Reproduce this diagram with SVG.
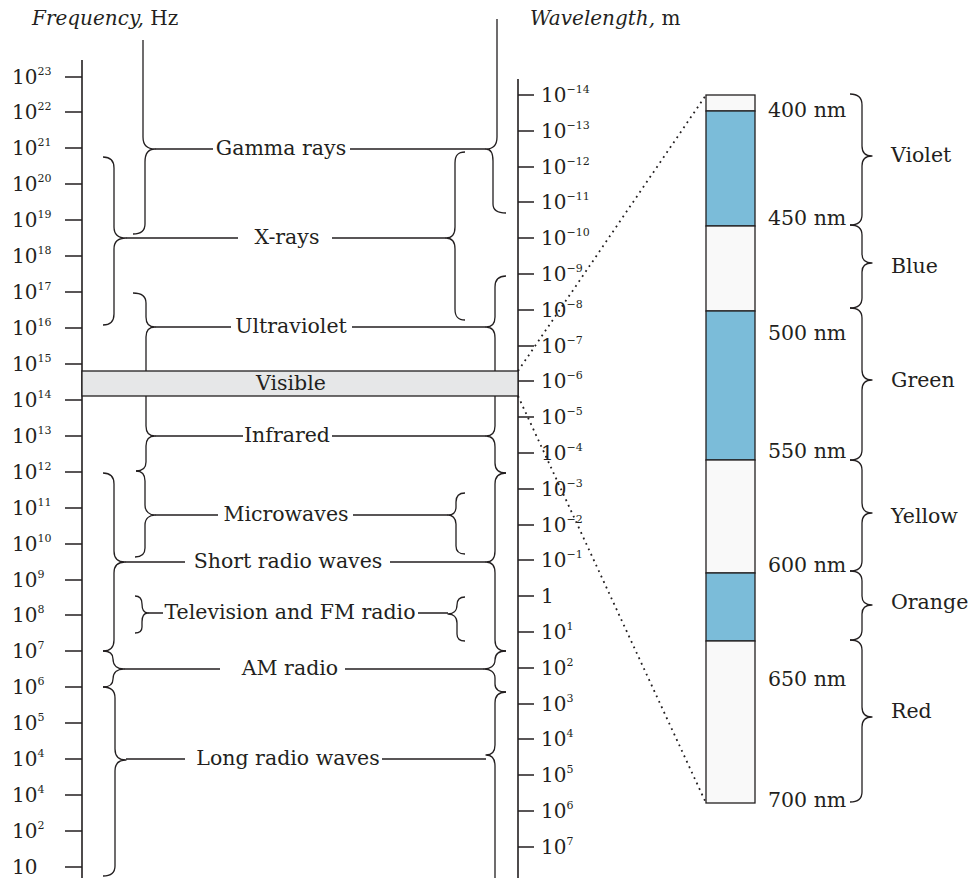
<svg xmlns="http://www.w3.org/2000/svg" width="978" height="878" viewBox="0 0 978 878">
<style>
text{font-family:"DejaVu Serif","Liberation Serif",serif;fill:#231f20}
.lbl{font-size:20.5px}
.ax{font-size:20px}
.sup{font-size:11px}
.title{font-size:20px}
.it{font-style:italic}
.mid{text-anchor:middle}
.ln{stroke:#231f20;stroke-width:1.3;fill:none}
.br{stroke:#231f20;stroke-width:1.3;fill:none;stroke-linejoin:round}
.axis{stroke:#231f20;stroke-width:1.6;fill:none}
.dot{stroke:#231f20;stroke-width:1.8;stroke-dasharray:1.8 4.2;fill:none}
.blue{fill:#7bbcd9;stroke:#231f20;stroke-width:1.3}
.pale{fill:#f9f9f9;stroke:#231f20;stroke-width:1.3}
</style>

<g id="titles">
<text class="title" x="32" y="25"><tspan class="it">Frequency,</tspan> Hz</text>
<text class="title" x="530" y="25"><tspan class="it">Wavelength,</tspan> m</text>
</g>

<g id="freq-axis">
<path class="axis" d="M82,60 V878"/>
<path class="ln" d="M65,77H82M65,112H82M65,148H82M65,184H82M65,220H82M65,256H82M65,292H82M65,328H82M65,364H82M65,400H82M65,436H82M65,472H82M65,508H82M65,544H82M65,580H82M65,615H82M65,651H82M65,687H82M65,723H82M65,759H82M65,795H82M65,831H82M65,867H82"/>
<g class="ax">
<text x="12" y="84">10<tspan class="sup" dy="-9">23</tspan></text>
<text x="12" y="119">10<tspan class="sup" dy="-9">22</tspan></text>
<text x="12" y="155">10<tspan class="sup" dy="-9">21</tspan></text>
<text x="12" y="191">10<tspan class="sup" dy="-9">20</tspan></text>
<text x="12" y="227">10<tspan class="sup" dy="-9">19</tspan></text>
<text x="12" y="263">10<tspan class="sup" dy="-9">18</tspan></text>
<text x="12" y="299">10<tspan class="sup" dy="-9">17</tspan></text>
<text x="12" y="335">10<tspan class="sup" dy="-9">16</tspan></text>
<text x="12" y="371">10<tspan class="sup" dy="-9">15</tspan></text>
<text x="12" y="407">10<tspan class="sup" dy="-9">14</tspan></text>
<text x="12" y="443">10<tspan class="sup" dy="-9">13</tspan></text>
<text x="12" y="479">10<tspan class="sup" dy="-9">12</tspan></text>
<text x="12" y="515">10<tspan class="sup" dy="-9">11</tspan></text>
<text x="12" y="551">10<tspan class="sup" dy="-9">10</tspan></text>
<text x="12" y="587">10<tspan class="sup" dy="-9">9</tspan></text>
<text x="12" y="622">10<tspan class="sup" dy="-9">8</tspan></text>
<text x="12" y="658">10<tspan class="sup" dy="-9">7</tspan></text>
<text x="12" y="694">10<tspan class="sup" dy="-9">6</tspan></text>
<text x="12" y="730">10<tspan class="sup" dy="-9">5</tspan></text>
<text x="12" y="766">10<tspan class="sup" dy="-9">4</tspan></text>
<text x="12" y="802">10<tspan class="sup" dy="-9">4</tspan></text>
<text x="12" y="838">10<tspan class="sup" dy="-9">2</tspan></text>
<text x="12" y="874">10</text>
</g>
</g>

<g id="wave-axis">
<path class="axis" d="M518,79 V878"/>
<path class="ln" d="M518,95H534M518,131H534M518,167H534M518,202H534M518,238H534M518,274H534M518,310H534M518,346H534M518,381H534M518,417H534M518,453H534M518,489H534M518,525H534M518,560H534M518,596H534M518,632H534M518,668H534M518,704H534M518,739H534M518,775H534M518,811H534M518,847H534"/>
<g class="ax">
<text x="541" y="102">10<tspan class="sup" dy="-9">−14</tspan></text>
<text x="541" y="138">10<tspan class="sup" dy="-9">−13</tspan></text>
<text x="541" y="174">10<tspan class="sup" dy="-9">−12</tspan></text>
<text x="541" y="209">10<tspan class="sup" dy="-9">−11</tspan></text>
<text x="541" y="245">10<tspan class="sup" dy="-9">−10</tspan></text>
<text x="541" y="281">10<tspan class="sup" dy="-9">−9</tspan></text>
<text x="541" y="317">10<tspan class="sup" dy="-9">−8</tspan></text>
<text x="541" y="353">10<tspan class="sup" dy="-9">−7</tspan></text>
<text x="541" y="388">10<tspan class="sup" dy="-9">−6</tspan></text>
<text x="541" y="424">10<tspan class="sup" dy="-9">−5</tspan></text>
<text x="541" y="460">10<tspan class="sup" dy="-9">−4</tspan></text>
<text x="541" y="496">10<tspan class="sup" dy="-9">−3</tspan></text>
<text x="541" y="532">10<tspan class="sup" dy="-9">−2</tspan></text>
<text x="541" y="567">10<tspan class="sup" dy="-9">−1</tspan></text>
<text x="541" y="603">1</text>
<text x="541" y="639">10<tspan class="sup" dy="-9">1</tspan></text>
<text x="541" y="675">10<tspan class="sup" dy="-9">2</tspan></text>
<text x="541" y="711">10<tspan class="sup" dy="-9">3</tspan></text>
<text x="541" y="746">10<tspan class="sup" dy="-9">4</tspan></text>
<text x="541" y="782">10<tspan class="sup" dy="-9">5</tspan></text>
<text x="541" y="818">10<tspan class="sup" dy="-9">6</tspan></text>
<text x="541" y="854">10<tspan class="sup" dy="-9">7</tspan></text>
</g>
</g>

<g id="connectors">
<!-- left braces -->
<path class="br" d="M143,40 L143,137 C143,146 148,149 155,149 C148,149 145,153 145,162 L145,224 C145,231 140,234 133,234"/>
<path class="br" d="M103,157 C110,157 114,160 114,168 L114,227 C114,235 119,238 126,238 C119,238 114,241 114,249 L114,314 C114,322 110,325 103,325"/>
<path class="br" d="M133,293 C141,293 146,296 146,303 L146,317 C146,324 150,327 155,327 C150,327 146,330 146,337 L146,383"/>
<path class="br" d="M146,383 L146,426 C146,433 150,436 155,436 C150,436 146,439 146,446 L146,462 C146,469 142,471 136,471"/>
<path class="br" d="M136,471 C142,471 145,474 145,481 L145,505 C145,512 150,515 155,515 C150,515 145,518 145,525 L145,548 C145,555 141,557 135,557"/>
<path class="br" d="M103,473 C110,473 114,476 114,484 L114,551 C114,559 119,562 125,562 C119,562 114,565 114,573 L114,640 C114,648 110,651 103,651"/>
<path class="br" d="M135,596 C140,596 142,599 142,604 C142,610 144,613 148,613 C144,613 142,616 142,622 L142,627 C142,631 140,633 135,633"/>
<path class="br" d="M103,651 C109,651 113,653 113,659 C113,666 118,669 124,669 C118,669 113,672 113,679 C113,685 109,687 103,687"/>
<path class="br" d="M103,687 C110,687 115,690 115,698 L115,749 C115,757 120,760 126,760 C120,760 115,763 115,771 L115,866 C115,873 110,876 103,876"/>
<!-- right braces -->
<path class="br" d="M497,19 L497,137 C497,146 492,149 486,149 C491,149 493,153 493,161 L493,204 C493,210 498,213 506,213"/>
<path class="br" d="M465,152 C458,152 455,155 455,163 L455,227 C455,235 451,238 446,238 C451,238 455,241 455,249 L455,309 C455,317 458,320 465,320"/>
<path class="br" d="M506,276 C499,276 495,279 495,287 L495,317 C495,324 491,327 486,327 C491,327 495,330 495,338 L495,383"/>
<path class="br" d="M495,383 L495,426 C495,433 491,436 486,436 C491,436 495,439 495,447 L495,463 C495,470 499,473 506,473"/>
<path class="br" d="M465,493 C459,493 456,496 456,502 L456,507 C456,513 452,515 448,515 C452,515 456,518 456,524 L456,546 C456,552 459,554 465,554"/>
<path class="br" d="M506,473 C499,473 495,476 495,484 L495,551 C495,559 491,562 486,562 C491,562 495,565 495,573 L495,640 C495,648 499,651 506,651"/>
<path class="br" d="M465,597 C460,597 457,600 457,605 C457,611 453,614 448,614 C453,614 457,617 457,623 L457,634 C457,639 460,641 465,641"/>
<path class="br" d="M506,651 C499,651 495,654 495,660 C495,666 490,669 484,669 C490,669 495,672 495,678 L495,684 C495,690 499,692 506,692"/>
<path class="br" d="M506,692 C499,692 495,695 495,703 L495,745 C495,752 491,755 486,755 C491,755 495,758 495,766 L495,878"/>
<!-- label lines -->
<path class="ln" d="M155,149H213M350,149H486"/>
<path class="ln" d="M126,238H238M332,238H446"/>
<path class="ln" d="M155,327H231M352,327H486"/>
<path class="ln" d="M155,436H243M332,436H486"/>
<path class="ln" d="M155,515H218M353,515H448"/>
<path class="ln" d="M125,562H185M390,562H486"/>
<path class="ln" d="M148,613H163M418,613H448"/>
<path class="ln" d="M124,669H220M345,669H484"/>
<path class="ln" d="M126,759H185M382,759H486"/>
<!-- dotted zoom lines -->
<path class="dot" d="M518,371 L706,95"/>
<path class="dot" d="M518,396 L706,803"/>
<!-- colour braces -->
<path class="br" d="M850,94 C857,94 862,97 862,105 L862,146 C862,153 866,156 872,156 C866,156 862,159 862,166 L862,215 C862,222 857,225 850,225"/>
<path class="br" d="M850,225 C857,225 862,228 862,235 L862,254 C862,260 866,263 872,263 C866,263 862,266 862,272 L862,298 C862,305 857,308 850,308"/>
<path class="br" d="M850,308 C857,308 862,311 862,318 L862,370 C862,377 866,380 872,380 C866,380 862,383 862,390 L862,450 C862,457 857,460 850,460"/>
<path class="br" d="M850,460 C857,460 862,463 862,470 L862,503 C862,510 866,513 872,513 C866,513 862,516 862,523 L862,561 C862,568 857,571 850,571"/>
<path class="br" d="M850,571 C857,571 862,574 862,581 L862,596 C862,602 866,605 872,605 C866,605 862,608 862,614 L862,630 C862,637 857,640 850,640"/>
<path class="br" d="M850,640 C857,640 862,643 862,650 L862,707 C862,714 866,717 872,717 C866,717 862,720 862,727 L862,792 C862,799 857,802 850,802"/>
</g>

<g id="gamma"><text class="lbl mid" x="281" y="155">Gamma rays</text></g>
<g id="xrays"><text class="lbl mid" x="287" y="244">X-rays</text></g>
<g id="ultraviolet"><text class="lbl mid" x="291" y="333">Ultraviolet</text></g>
<g id="visible">
<rect x="82" y="371" width="436" height="25" fill="#e6e7e8" stroke="#231f20" stroke-width="1.3"/>
<text class="lbl mid" x="291" y="390">Visible</text>
</g>
<g id="infrared"><text class="lbl mid" x="287" y="442">Infrared</text></g>
<g id="microwaves"><text class="lbl mid" x="286" y="521">Microwaves</text></g>
<g id="short-radio"><text class="lbl mid" x="288" y="568">Short radio waves</text></g>
<g id="tv-fm"><text class="lbl mid" x="290" y="619">Television and FM radio</text></g>
<g id="am-radio"><text class="lbl mid" x="290" y="675">AM radio</text></g>
<g id="long-radio"><text class="lbl mid" x="288" y="765">Long radio waves</text></g>

<g id="color-bar">
<rect class="pale" x="706" y="95" width="49" height="16"/>
<rect class="blue" x="706" y="111" width="49" height="115"/>
<rect class="pale" x="706" y="226" width="49" height="85"/>
<rect class="blue" x="706" y="311" width="49" height="149"/>
<rect class="pale" x="706" y="460" width="49" height="113"/>
<rect class="blue" x="706" y="573" width="49" height="68"/>
<rect class="pale" x="706" y="641" width="49" height="162"/>
</g>

<g id="nm-labels" class="lbl">
<text x="768" y="117">400 nm</text>
<text x="768" y="225">450 nm</text>
<text x="768" y="340">500 nm</text>
<text x="768" y="458">550 nm</text>
<text x="768" y="572">600 nm</text>
<text x="768" y="686">650 nm</text>
<text x="768" y="807">700 nm</text>
</g>

<g id="violet"><text class="lbl" x="891" y="162">Violet</text></g>
<g id="blue"><text class="lbl" x="891" y="273">Blue</text></g>
<g id="green"><text class="lbl" x="891" y="387">Green</text></g>
<g id="yellow"><text class="lbl" x="891" y="523">Yellow</text></g>
<g id="orange"><text class="lbl" x="891" y="609">Orange</text></g>
<g id="red"><text class="lbl" x="891" y="718">Red</text></g>
</svg>
